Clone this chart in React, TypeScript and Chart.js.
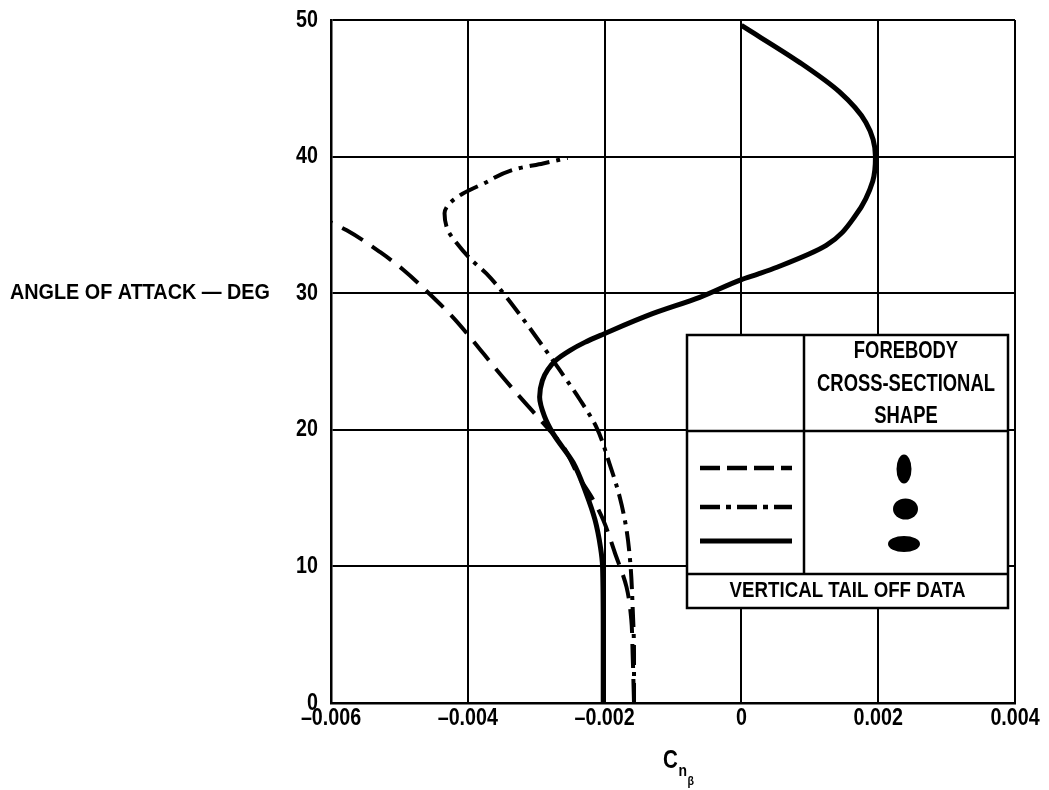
import React, { useEffect, useRef } from "react";
import { Chart, registerables } from "chart.js";

Chart.register(...registerables);

// ---- data ----
const xTickValues = [-0.006, -0.004, -0.002, 0, 0.002, 0.004];
const xTickLabels = ["\u20130.006", "\u20130.004", "\u20130.002", "0", "0.002", "0.004"];
const yTickValues = [0, 10, 20, 30, 40, 50];
const yTickLabels = ["0", "10", "20", "30", "40", "50"];

// solid: flat (horizontal) elliptic cross-section
const solidAlpha = [0, 5, 10, 11.4, 13.4, 15.35, 17.6, 19.7, 21.0, 22.4, 23.6, 24.4, 25.1, 25.8, 26.4, 27.0, 28.5, 29.7, 31.0, 31.4, 31.9, 33.5, 35.7, 38.2, 40.0, 42.5, 44.75, 46.9, 49.6];
const solidCn = [-0.00202, -0.00202, -0.00203, -0.00206, -0.00214, -0.00227, -0.00246, -0.00275, -0.00288, -0.00295, -0.00291, -0.00283, -0.00271, -0.00251, -0.00229, -0.00202, -0.0013, -0.00061, 0, 0.00024, 0.00052, 0.00124, 0.00167, 0.00192, 0.00196, 0.00182, 0.00143, 0.00085, 0];

// dash-dot: circular cross-section
const dashDotAlpha = [0, 3.7, 7, 10, 12.7, 15.1, 17.55, 20.2, 22.2, 24.4, 26.1, 28.3, 30.0, 31.45, 32.55, 33.65, 34.6, 35.85, 36.6, 37.3, 38.0, 39.1, 39.5, 39.9];
const dashDotCn = [-0.00157, -0.00157, -0.00159, -0.00162, -0.00168, -0.00178, -0.00193, -0.00212, -0.00236, -0.00266, -0.0029, -0.00322, -0.00348, -0.00373, -0.00397, -0.00416, -0.00429, -0.00434, -0.00426, -0.00407, -0.00378, -0.00329, -0.0029, -0.00254];

// dashed: vertical elliptic cross-section
const dashedAlpha = [0, 3.6, 6.1, 8.5, 11, 13.4, 14.9, 16.5, 18.8, 20.5, 22.7, 24.4, 26.8, 28.3, 29.9, 31.7, 33.0, 34.6, 35.2];
const dashedCn = [-0.00157, -0.00159, -0.00161, -0.00168, -0.00185, -0.00202, -0.00217, -0.00237, -0.00261, -0.0029, -0.00329, -0.00358, -0.00397, -0.00423, -0.00455, -0.00494, -0.00528, -0.00577, -0.00601];

const yTitle = "ANGLE OF ATTACK \u2014 DEG";
const legendHeader = ["FOREBODY", "CROSS-SECTIONAL", "SHAPE"];
const legendFooter = "VERTICAL TAIL OFF DATA";

const FONT = '"Liberation Sans", Arial, sans-serif';

function drawText(ctx: CanvasRenderingContext2D, s: string, x: number, y: number, size: number, align: CanvasTextAlign, sx = 0.82) {
  ctx.save();
  ctx.font = `bold ${size}px ${FONT}`;
  ctx.fillStyle = "#000";
  ctx.textBaseline = "middle";
  ctx.textAlign = align;
  ctx.translate(x, y);
  ctx.scale(sx, 1);
  ctx.fillText(s, 0, 0);
  ctx.restore();
}

function toPoints(xs: number[], ys: number[]) {
  return xs.map((x, i) => ({ x, y: ys[i] }));
}

const textPlugin = {
  id: "customText",
  afterDraw(chart: any) {
    const ctx: CanvasRenderingContext2D = chart.ctx;
    const xs = chart.scales.x;
    const ys = chart.scales.y;
    const area = chart.chartArea;

    // tick labels
    xTickValues.forEach((v, i) => {
      drawText(ctx, xTickLabels[i], xs.getPixelForValue(v), area.bottom + 15, 24, "center");
    });
    yTickValues.forEach((v, i) => {
      drawText(ctx, yTickLabels[i], area.left - 13, ys.getPixelForValue(v), 24, "right");
    });

    // axis titles
    drawText(ctx, yTitle, 10, ys.getPixelForValue(30), 22, "left", 0.9);
    const cx = (area.left + area.right) / 2 - 10;
    ctx.save();
    ctx.fillStyle = "#000";
    ctx.textBaseline = "alphabetic";
    ctx.textAlign = "left";
    ctx.translate(cx, 768);
    ctx.scale(0.82, 1);
    ctx.font = `bold 25px ${FONT}`;
    ctx.fillText("C", 0, 0);
    ctx.font = `bold 17px ${FONT}`;
    ctx.fillText("n", 19, 8);
    ctx.font = `bold 13px ${FONT}`;
    ctx.fillText("\u03B2", 30, 17);
    ctx.restore();
  },
  afterDatasetsDraw(chart: any) {
    const ctx: CanvasRenderingContext2D = chart.ctx;
    const L = 687, T = 335, R = 1008, B = 608, V = 804, H1 = 431, H2 = 574;
    ctx.save();
    ctx.fillStyle = "#fff";
    ctx.fillRect(L, T, R - L, B - T);
    ctx.strokeStyle = "#000";
    ctx.lineWidth = 2.5;
    ctx.strokeRect(L, T, R - L, B - T);
    ctx.beginPath();
    ctx.moveTo(V, T); ctx.lineTo(V, H2);
    ctx.moveTo(L, H1); ctx.lineTo(R, H1);
    ctx.moveTo(L, H2); ctx.lineTo(R, H2);
    ctx.stroke();

    const cxh = (V + R) / 2;
    drawText(ctx, legendHeader[0], cxh, 352, 23, "center", 0.8);
    drawText(ctx, legendHeader[1], cxh, 385, 23, "center", 0.8);
    drawText(ctx, legendHeader[2], cxh, 417, 23, "center", 0.8);
    drawText(ctx, legendFooter, (L + R) / 2, 591, 22, "center", 0.85);

    // sample lines
    ctx.lineCap = "butt";
    const samples: [number, number[], number][] = [
      [468, [20, 7], 4.5],
      [507, [20, 6, 5, 6], 4.5],
      [541, [], 5],
    ];
    samples.forEach(([y, dash, w]) => {
      ctx.beginPath();
      ctx.setLineDash(dash);
      ctx.lineWidth = w;
      ctx.moveTo(700, y);
      ctx.lineTo(792, y);
      ctx.stroke();
    });
    ctx.setLineDash([]);

    // shapes
    ctx.fillStyle = "#000";
    const shapes: [number, number, number, number][] = [
      [904, 469, 7.5, 14.5],
      [905.5, 509, 12.5, 10.5],
      [904, 544, 16, 8],
    ];
    shapes.forEach(([x, y, rx, ry]) => {
      ctx.beginPath();
      ctx.ellipse(x, y, rx, ry, 0, 0, Math.PI * 2);
      ctx.fill();
    });
    ctx.restore();
  },
};

export default function App() {
  const ref = useRef<HTMLCanvasElement | null>(null);
  useEffect(() => {
    if (!ref.current) return;
    const common = {
      borderColor: "#000",
      pointRadius: 0,
      cubicInterpolationMode: "monotone",
      fill: false,
    };
    const chart = new Chart(ref.current, {
      type: "line",
      data: {
        datasets: [
          { ...common, data: toPoints(dashedCn, dashedAlpha), borderWidth: 4, borderDash: [24, 11] },
          { ...common, data: toPoints(dashDotCn, dashDotAlpha), borderWidth: 4, borderDash: [20, 7, 4, 7] },
          { ...common, data: toPoints(solidCn, solidAlpha), borderWidth: 5 },
        ],
      },
      options: {
        indexAxis: "y",
        responsive: false,
        maintainAspectRatio: false,
        animation: false,
        events: [],
        layout: { padding: { left: 0, right: 34, top: 20, bottom: 0 } },
        plugins: { legend: { display: false }, tooltip: { enabled: false }, title: { display: false } },
        scales: {
          x: {
            type: "linear",
            position: "bottom",
            min: -0.006,
            max: 0.004,
            afterBuildTicks: (s: any) => {
              s.ticks = xTickValues.map((v) => ({ value: v }));
            },
            afterFit: (s: any) => {
              s.height = 87;
            },
            ticks: { display: false },
            grid: { color: "#000", lineWidth: 2, drawTicks: false, tickLength: 0 },
            border: { display: true, color: "#000", width: 2.5 },
          },
          y: {
            type: "linear",
            position: "left",
            min: 0,
            max: 50,
            afterBuildTicks: (s: any) => {
              s.ticks = yTickValues.map((v) => ({ value: v }));
            },
            afterFit: (s: any) => {
              s.width = 331;
            },
            ticks: { display: false },
            grid: { color: "#000", lineWidth: 2, drawTicks: false, tickLength: 0 },
            border: { display: true, color: "#000", width: 2.5 },
          },
        },
      },
      plugins: [textPlugin],
    } as any);
    return () => chart.destroy();
  }, []);
  return (
    <div style={{ position: "absolute", left: 0, top: 0, width: 1049, height: 790, background: "#fff" }}>
      <canvas ref={ref} width={1049} height={790} style={{ display: "block", width: 1049, height: 790 }} />
    </div>
  );
}
